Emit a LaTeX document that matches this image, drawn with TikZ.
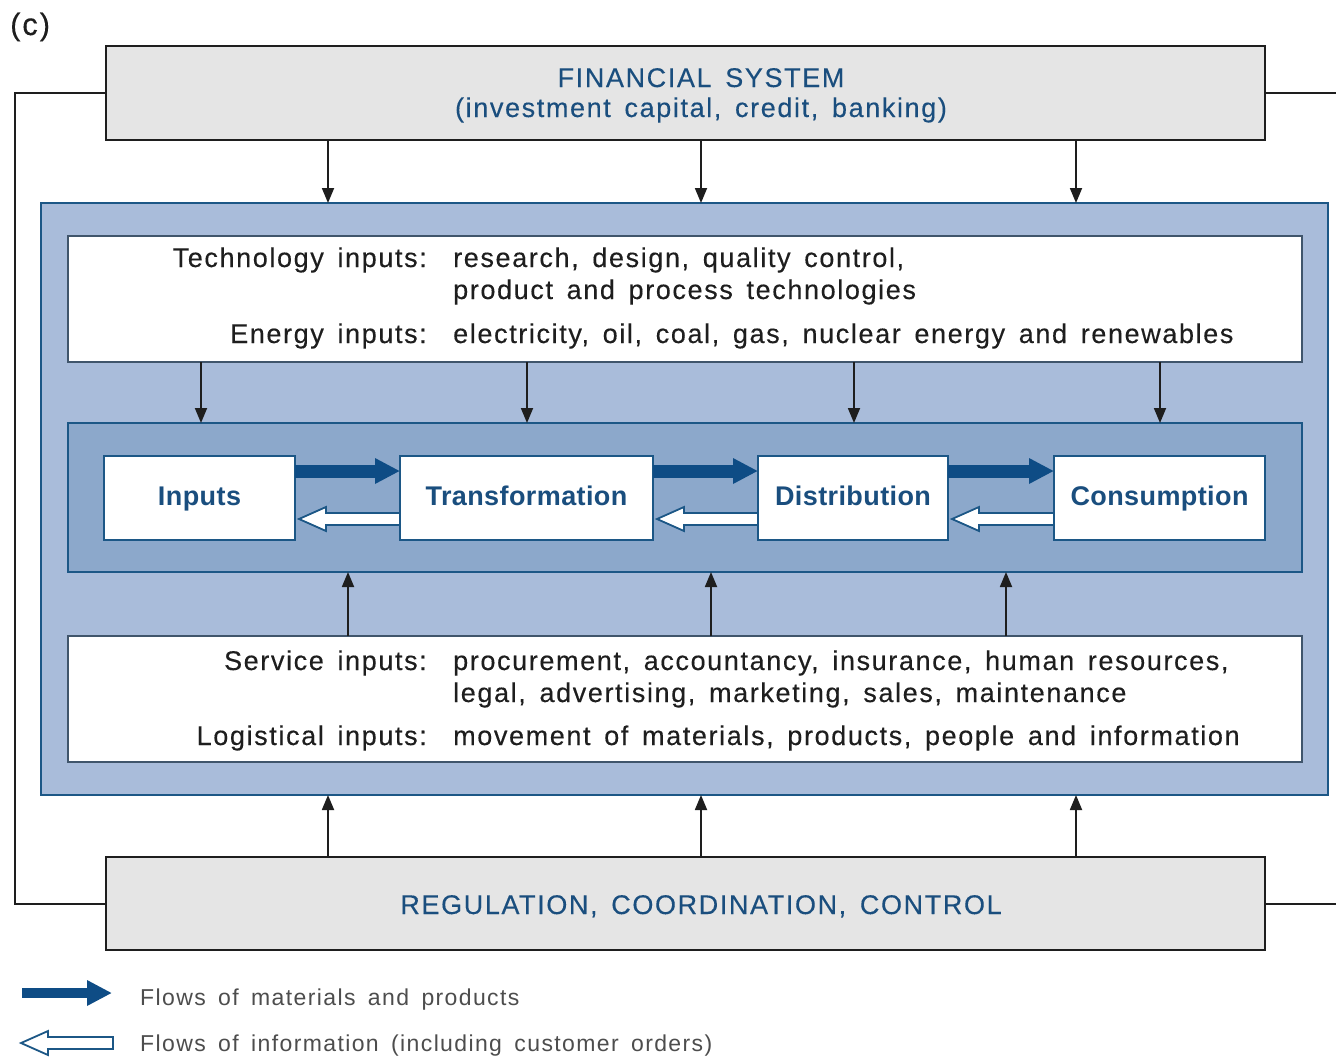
\documentclass[tikz,border=0pt]{standalone}
\usepackage{fontspec}
\setmainfont{Liberation Sans}[LetterSpace=6.0, WordSpace=1.5, FakeBold=0.25]
\newfontfamily\legendfont{Liberation Sans}[LetterSpace=6.0, WordSpace=1.6]
\newfontfamily\boxlabelfont{Liberation Sans}[LetterSpace=1.5]
\usetikzlibrary{arrows.meta,calc}
\definecolor{outerfill}{HTML}{A9BCDA}
\definecolor{innerfill}{HTML}{8CA8CB}
\definecolor{bluebord}{HTML}{1C5786}
\definecolor{txtblue}{HTML}{1A4E7E}
\definecolor{matcol}{HTML}{0E4C85}
\definecolor{grayfill}{HTML}{E5E5E5}
\definecolor{panelbord}{HTML}{40556B}
\definecolor{txtdark}{HTML}{1E1E1E}
\definecolor{legendgray}{HTML}{4D4D4D}
\newcommand\infoarrow[2]{%
  \filldraw[infostyle] (#1) -- ($(#1)+(27,-12)$) -- ($(#1)+(27,-6)$) -- ($(#2)+(0,-6)$)
    -- ($(#2)+(0,6)$) -- ($(#1)+(27,6)$) -- ($(#1)+(27,12)$) -- cycle;}
\begin{document}
\begin{tikzpicture}[x=1pt,y=-1pt,
  graybox/.style={draw=txtdark, fill=grayfill, line width=2.5pt, inner sep=0pt, outer sep=0pt},
  outerbox/.style={draw=bluebord, fill=outerfill, line width=2pt, inner sep=0pt, outer sep=0pt},
  innerbox/.style={draw=bluebord, fill=innerfill, line width=2pt, inner sep=0pt, outer sep=0pt},
  panel/.style={draw=panelbord, fill=white, line width=1.6pt, inner sep=0pt, outer sep=0pt},
  procbox/.style={draw=bluebord, fill=white, line width=1.6pt, inner sep=0pt, outer sep=0pt,
    minimum height=84pt, text=txtblue, font=\boxlabelfont\bfseries\fontsize{27}{30}\selectfont,
    text height=19pt, text depth=5pt},
  bodytext/.style={inner sep=0pt, text=txtdark, font=\fontsize{27}{32}\selectfont},
  headtext/.style={inner sep=0pt, text=txtblue, font=\fontsize{27}{32}\selectfont, anchor=base},
  legendtext/.style={inner sep=0pt, text=legendgray, font=\legendfont\fontsize{23}{26}\selectfont, anchor=base west},
  blk/.style={draw=txtdark, line width=1.8pt, -{Triangle[length=15pt,width=12pt]}},
  connline/.style={draw=txtdark, line width=2pt},
  matarr/.style={draw=matcol, line width=13pt, -{Triangle[length=25pt,width=24pt]}},
  infostyle/.style={draw=bluebord, fill=white, line width=1.8pt, line join=miter}
]
\useasboundingbox (0,0) rectangle (1336,1058);
\fill[white] (0,0) rectangle (1336,1058);

% label (c)
\node[inner sep=0pt, anchor=base west, text=txtdark, font=\fontsize{31}{34}\selectfont] (clabel) at (10,35) {(c)};

% outer frames
\node[graybox, minimum width=1159pt, minimum height=94pt] (fin) at (685.5,93) {};
\node[graybox, minimum width=1159pt, minimum height=93pt] (reg) at (685.5,903.5) {};
\node[outerbox, minimum width=1287pt, minimum height=592pt] (outer) at (684.5,499) {};
\node[panel, minimum width=1234pt, minimum height=126pt] (toppanel) at (685,299) {};
\node[panel, minimum width=1234pt, minimum height=126pt] (botpanel) at (685,699) {};
\node[innerbox, minimum width=1234pt, minimum height=149pt] (inner) at (685,497.5) {};

% header texts
\node[headtext] (fin1) at (701,87) {FINANCIAL SYSTEM};
\node[headtext] (fin2) at (701,117) {(investment capital, credit, banking)};
\node[headtext] (regt) at (701,914) {REGULATION, COORDINATION, CONTROL};

% process boxes
\node[procbox, minimum width=191pt] (inputs) at (199.5,498) {Inputs};
\node[procbox, minimum width=253pt] (trans) at (526.5,498) {Transformation};
\node[procbox, minimum width=190pt] (distr) at (853,498) {Distribution};
\node[procbox, minimum width=211pt] (cons) at (1159.5,498) {Consumption};

% top panel texts
\node[bodytext, anchor=base east] (techl) at (427,267) {Technology inputs:};
\node[bodytext, anchor=base west] (tech1) at (453,267) {research, design, quality control,};
\node[bodytext, anchor=base west] (tech2) at (453,299) {product and process technologies};
\node[bodytext, anchor=base east] (enl) at (427,343) {Energy inputs:};
\node[bodytext, anchor=base west] (en1) at (453,343) {electricity, oil, coal, gas, nuclear energy and renewables};

% bottom panel texts
\node[bodytext, anchor=base east] (servl) at (427,670) {Service inputs:};
\node[bodytext, anchor=base west] (serv1) at (453,670) {procurement, accountancy, insurance, human resources,};
\node[bodytext, anchor=base west] (serv2) at (453,702) {legal, advertising, marketing, sales, maintenance};
\node[bodytext, anchor=base east] (logl) at (427,745) {Logistical inputs:};
\node[bodytext, anchor=base west] (log1) at (453,745) {movement of materials, products, people and information};

% reference coordinates
\coordinate (ca) at (328,0); \coordinate (cb) at (701,0); \coordinate (cc) at (1076,0);
\coordinate (ta) at (201,0); \coordinate (tb) at (527,0); \coordinate (tc) at (854,0); \coordinate (td) at (1160,0);
\coordinate (ua) at (348,0); \coordinate (ub) at (711,0); \coordinate (uc) at (1006,0);
\coordinate (lx) at (15,0); \coordinate (rx) at (1336,0);
\coordinate (mrow) at (0,471); \coordinate (irow) at (0,519);

% financial -> outer
\foreach \c in {ca,cb,cc} \draw[blk] (fin.south -| \c) -- (outer.north -| \c);
% regulation -> outer
\foreach \c in {ca,cb,cc} \draw[blk] (reg.north -| \c) -- (outer.south -| \c);
% top panel -> inner
\foreach \c in {ta,tb,tc,td} \draw[blk] (toppanel.south -| \c) -- (inner.north -| \c);
% bottom panel -> inner
\foreach \c in {ua,ub,uc} \draw[blk] (botpanel.north -| \c) -- (inner.south -| \c);

% side connectors
\draw[connline] (fin.west) -- (fin.west -| lx) -- (reg.west -| lx) -- (reg.west);
\draw[connline] (fin.east) -- (fin.east -| rx);
\draw[connline] (reg.east) -- (reg.east -| rx);

% material flows
\draw[matarr] (inputs.east |- mrow) -- (trans.west |- mrow);
\draw[matarr] (trans.east |- mrow) -- (distr.west |- mrow);
\draw[matarr] (distr.east |- mrow) -- (cons.west |- mrow);

% information flows
\coordinate (ti1) at ($(inputs.east |- irow)+(4,0)$); \coordinate (te1) at (trans.west |- irow);
\coordinate (ti2) at ($(trans.east |- irow)+(4,0)$);  \coordinate (te2) at (distr.west |- irow);
\coordinate (ti3) at ($(distr.east |- irow)+(4,0)$);  \coordinate (te3) at (cons.west |- irow);
\infoarrow{ti1}{te1}
\infoarrow{ti2}{te2}
\infoarrow{ti3}{te3}

% legend
\coordinate (lm1) at (22,993); \coordinate (lm2) at (112,993);
\draw[matarr, line width=10pt] (lm1) -- (lm2);
\coordinate (lt) at (21,1043); \coordinate (le) at (113,1043);
\infoarrow{lt}{le}
\node[legendtext] (leg1) at (140,1005) {Flows of materials and products};
\node[legendtext] (leg2) at (140,1051) {Flows of information (including customer orders)};
\end{tikzpicture}
\end{document}
